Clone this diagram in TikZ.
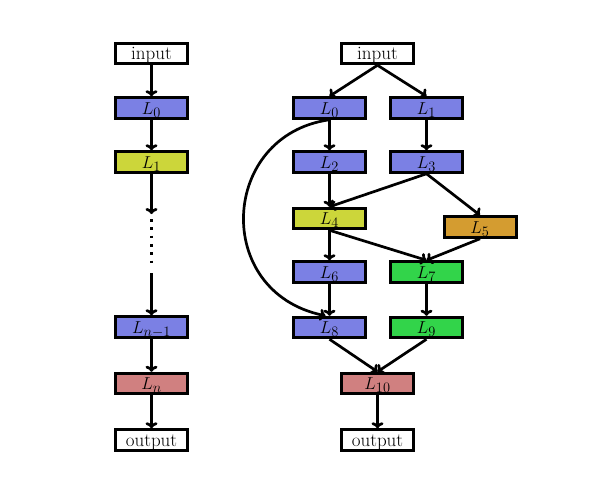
\documentclass[tikz,border=0pt]{standalone}
\usetikzlibrary{arrows.meta}
\definecolor{cblue}{RGB}{123,128,228}
\definecolor{cyel}{RGB}{204,214,58}
\definecolor{corange}{RGB}{212,156,48}
\definecolor{cgreen}{RGB}{50,212,74}
\definecolor{cred}{RGB}{208,128,128}
\begin{document}
\begin{tikzpicture}[x=1pt,y=-1pt,
  box/.style={draw=black,line width=3pt,minimum width=72pt,minimum height=20.5pt,inner sep=0pt,text height=14pt,text depth=2pt,font=\fontsize{19}{22}\selectfont},
  blue/.style={box,fill=cblue},
  yel/.style={box,fill=cyel},
  ora/.style={box,fill=corange},
  grn/.style={box,fill=cgreen},
  red/.style={box,fill=cred},
  wht/.style={box,fill=white},
  arr/.style={line width=2.7pt,-{To[length=6pt,width=12pt]}}]
\useasboundingbox (0,0) rectangle (592,491);
% left column
\node[wht] (ain) at (151.5,53.5) {input};
\node[blue] (a0) at (151.5,108) {$L_0$};
\node[yel] (a1) at (151.5,162) {$L_1$};
\coordinate (d0) at (151.5,214);
\coordinate (ds) at (151.5,219);
\coordinate (de) at (151.5,265);
\coordinate (d1) at (151.5,273);
\node[blue] (an1) at (151.5,327) {$L_{n-1}$};
\node[red] (an) at (151.5,383.5) {$L_n$};
\node[wht] (aout) at (151.5,440) {output};
\draw[arr] (ain) -- (a0);
\draw[arr] (a0) -- (a1);
\draw[arr] (a1) -- (d0);
\draw[line width=2.8pt,dash pattern=on 2.8pt off 5.5pt] (ds) -- (de);
\draw[arr] (d1) -- (an1);
\draw[arr] (an1) -- (an);
\draw[arr] (an) -- (aout);
% right graph
\node[wht] (bin) at (377.5,53.5) {input};
\node[blue] (b0) at (329.5,108) {$L_0$};
\node[blue] (b1) at (426.5,108) {$L_1$};
\node[blue] (b2) at (329.5,162) {$L_2$};
\node[blue] (b3) at (426.5,162) {$L_3$};
\node[yel] (b4) at (329.5,218.5) {$L_4$};
\node[ora] (b5) at (480,227) {$L_5$};
\node[blue] (b6) at (329.5,272) {$L_6$};
\node[grn] (b7) at (426.5,272) {$L_7$};
\node[blue] (b8) at (329.5,327.5) {$L_8$};
\node[grn] (b9) at (426.5,327.5) {$L_9$};
\node[red] (b10) at (377.5,383.5) {$L_{10}$};
\node[wht] (bout) at (377.5,440) {output};
\draw[arr] (bin.south) -- (b0.north);
\draw[arr] (bin.south) -- (b1.north);
\draw[arr] (b0) -- (b2);
\draw[arr] (b1) -- (b3);
\draw[arr] (b2) -- (b4);
\draw[arr] (b3.south) -- (b4.north);
\draw[arr] (b3.south) -- (b5.north);
\draw[arr] (b4) -- (b6);
\draw[arr] (b4.south) -- (b7.north);
\draw[arr] (b5.south) -- (b7.north);
\draw[arr] (b6) -- (b8);
\draw[arr] (b7) -- (b9);
\draw[arr] (b8.south) -- (b10.north);
\draw[arr] (b9.south) -- (b10.north);
\draw[arr] (b10) -- (bout);
\draw[arr] (b0.south) .. controls (220,135) and (212,292) .. ([xshift=-4pt]b8.north);
\end{tikzpicture}
\end{document}
